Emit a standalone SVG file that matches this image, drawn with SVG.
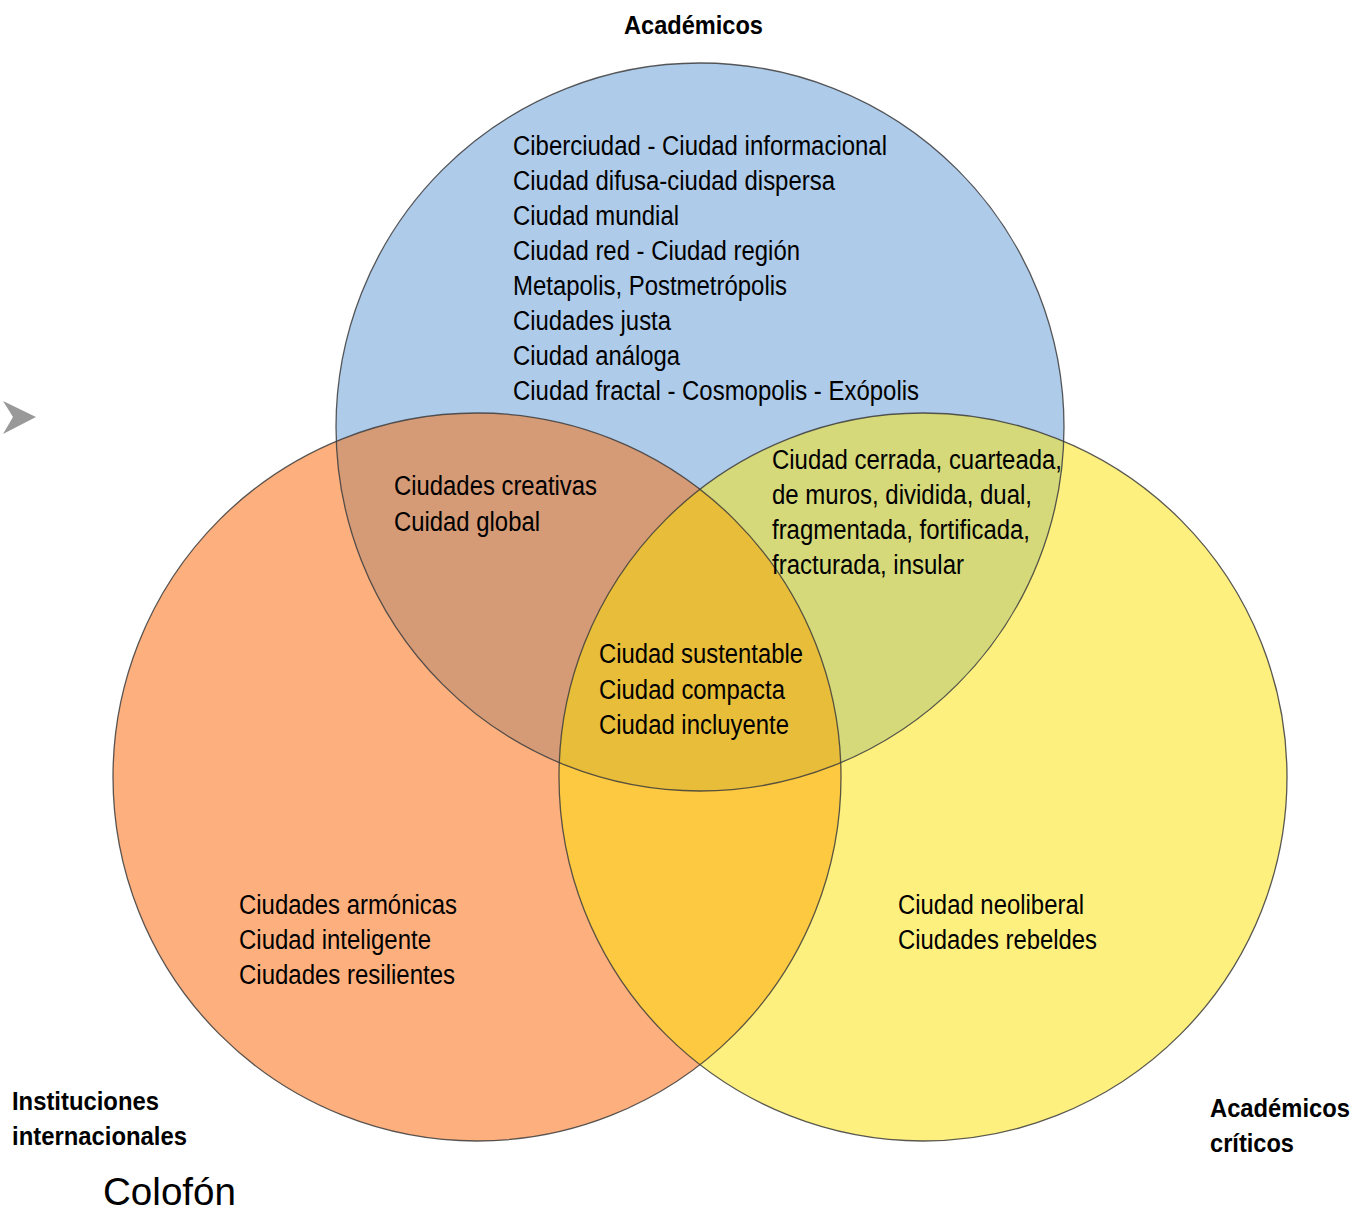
<svg xmlns="http://www.w3.org/2000/svg" width="1356" height="1211" viewBox="0 0 1356 1211">
<style>
.t{font-family:"Liberation Sans Narrow","Liberation Sans",Arial,sans-serif;font-size:27px;fill:#000}
.b{font-family:"Liberation Sans Narrow","Liberation Sans",Arial,sans-serif;font-size:25px;font-weight:bold;fill:#000}
.ring{fill:none;stroke:#3c3c3c;stroke-width:1.3;stroke-opacity:0.85}
</style>
<defs>
<clipPath id="cBlue"><circle cx="700" cy="427" r="364"/></clipPath>
<clipPath id="cOrange"><circle cx="477" cy="777" r="364"/></clipPath>
<clipPath id="cYellow"><circle cx="923" cy="777" r="364"/></clipPath>
<clipPath id="cBO" clip-path="url(#cOrange)"><circle cx="700" cy="427" r="364"/></clipPath>
</defs>
<rect width="1356" height="1211" fill="#fff"/>
<polygon points="3,401 36,417 3,434 13,417" fill="#999"/>
<g id="circle-instituciones">
<circle cx="477" cy="777" r="364" fill="#fdb07e"/>
</g>
<g id="circle-criticos">
<circle cx="923" cy="777" r="364" fill="#fef07f"/>
</g>
<g id="circle-academicos">
<circle cx="700" cy="427" r="364" fill="#aecbea"/>
</g>
<g id="overlaps">
<circle cx="477" cy="777" r="364" fill="#d59a76" clip-path="url(#cBlue)"/>
<circle cx="923" cy="777" r="364" fill="#d5d979" clip-path="url(#cBlue)"/>
<circle cx="923" cy="777" r="364" fill="#fdc940" clip-path="url(#cOrange)"/>
<circle cx="923" cy="777" r="364" fill="#e8bd3a" clip-path="url(#cBO)"/>
</g>
<g id="outlines">
<circle class="ring" cx="700" cy="427" r="364"/>
<circle class="ring" cx="477" cy="777" r="364"/>
<circle class="ring" cx="923" cy="777" r="364"/>
</g>
<g id="text-academicos">
<text class="t" x="513" y="155" textLength="374" lengthAdjust="spacingAndGlyphs">Ciberciudad - Ciudad informacional</text>
<text class="t" x="513" y="190" textLength="322" lengthAdjust="spacingAndGlyphs">Ciudad difusa-ciudad dispersa</text>
<text class="t" x="513" y="225" textLength="166" lengthAdjust="spacingAndGlyphs">Ciudad mundial</text>
<text class="t" x="513" y="260" textLength="287" lengthAdjust="spacingAndGlyphs">Ciudad red - Ciudad región</text>
<text class="t" x="513" y="295" textLength="274" lengthAdjust="spacingAndGlyphs">Metapolis, Postmetrópolis</text>
<text class="t" x="513" y="330" textLength="158" lengthAdjust="spacingAndGlyphs">Ciudades justa</text>
<text class="t" x="513" y="365" textLength="167" lengthAdjust="spacingAndGlyphs">Ciudad análoga</text>
<text class="t" x="513" y="400" textLength="406" lengthAdjust="spacingAndGlyphs">Ciudad fractal - Cosmopolis - Exópolis</text>
</g>
<g id="text-academicos-instituciones">
<text class="t" x="394" y="495" textLength="203" lengthAdjust="spacingAndGlyphs">Ciudades creativas</text>
<text class="t" x="394" y="531" textLength="146" lengthAdjust="spacingAndGlyphs">Cuidad global</text>
</g>
<g id="text-academicos-criticos">
<text class="t" x="772" y="469" textLength="290" lengthAdjust="spacingAndGlyphs">Ciudad cerrada, cuarteada,</text>
<text class="t" x="772" y="504" textLength="260" lengthAdjust="spacingAndGlyphs">de muros, dividida, dual,</text>
<text class="t" x="772" y="539" textLength="258" lengthAdjust="spacingAndGlyphs">fragmentada, fortificada,</text>
<text class="t" x="772" y="574" textLength="192" lengthAdjust="spacingAndGlyphs">fracturada, insular</text>
</g>
<g id="text-centro">
<text class="t" x="599" y="663" textLength="204" lengthAdjust="spacingAndGlyphs">Ciudad sustentable</text>
<text class="t" x="599" y="699" textLength="186" lengthAdjust="spacingAndGlyphs">Ciudad compacta</text>
<text class="t" x="599" y="734" textLength="190" lengthAdjust="spacingAndGlyphs">Ciudad incluyente</text>
</g>
<g id="text-instituciones">
<text class="t" x="239" y="914" textLength="218" lengthAdjust="spacingAndGlyphs">Ciudades armónicas</text>
<text class="t" x="239" y="949" textLength="192" lengthAdjust="spacingAndGlyphs">Ciudad inteligente</text>
<text class="t" x="239" y="984" textLength="216" lengthAdjust="spacingAndGlyphs">Ciudades resilientes</text>
</g>
<g id="text-criticos">
<text class="t" x="898" y="914" textLength="186" lengthAdjust="spacingAndGlyphs">Ciudad neoliberal</text>
<text class="t" x="898" y="949" textLength="199" lengthAdjust="spacingAndGlyphs">Ciudades rebeldes</text>
</g>
<g id="titles">
<text class="b" x="624" y="34" textLength="139" lengthAdjust="spacingAndGlyphs">Académicos</text>
<text class="b" x="12" y="1110" textLength="147" lengthAdjust="spacingAndGlyphs">Instituciones</text>
<text class="b" x="12" y="1145" textLength="175" lengthAdjust="spacingAndGlyphs">internacionales</text>
<text class="b" x="1210" y="1117" textLength="140" lengthAdjust="spacingAndGlyphs">Académicos</text>
<text class="b" x="1210" y="1152" textLength="84" lengthAdjust="spacingAndGlyphs">críticos</text>
<text class="t" x="103" y="1205" style="font-size:39px" textLength="133" lengthAdjust="spacingAndGlyphs">Colofón</text>
</g>
</svg>
